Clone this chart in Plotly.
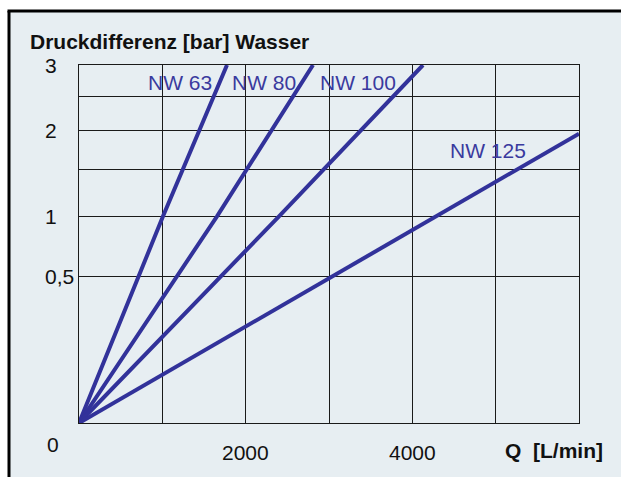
import numpy as np
import plotly.graph_objects as go

# ---- data (Q in L/min, pressure difference in bar) ----
series_names = ["NW 63", "NW 80", "NW 100", "NW 125"]
q_nw63 = [0, 1008, 1776]
dp_nw63 = [0, 1.0, 3.0]
q_nw80 = [0, 1656, 2808]
dp_nw80 = [0, 1.0, 3.0]
q_nw100 = [0, 2400, 4128]
dp_nw100 = [0, 1.0, 3.0]
q_nw125 = [0, 4296, 6000]
dp_nw125 = [0, 1.0, 1.96]

x_grid = [0, 1000, 2000, 3000, 4000, 5000, 6000]
x_tick_labels = {2000: "2000", 4000: "4000"}
y_grid = [0, 0.5, 1, 1.5, 2, 2.5, 3]
y_tick_labels = {0: "0", 0.5: "0,5", 1: "1", 2: "2", 3: "3"}

# ---- layout geometry (pixels) ----
W, H = 621, 477
L, R, T, B = 79, 42, 65, 54
PW, PH = W - L - R, H - T - B


def px(xpix):
    return (xpix - L) / PW


def py(ypix):
    return (H - B - ypix) / PH


BG = "#e7eef2"
LINE = "#32329a"
TXT_BLUE = "#3a3a9e"
FONT = "Liberation Sans, Arial, sans-serif"
FS = 21

fig = go.Figure()
for name, q, dp in [
    ("NW 63", q_nw63, dp_nw63),
    ("NW 80", q_nw80, dp_nw80),
    ("NW 100", q_nw100, dp_nw100),
    ("NW 125", q_nw125, dp_nw125),
]:
    fig.add_trace(go.Scatter(
        x=q, y=np.sqrt(dp), mode="lines", name=name,
        line=dict(color=LINE, width=4), showlegend=False,
    ))

shapes = [
    # light blue panel with top and left border
    dict(type="rect", xref="paper", yref="paper", layer="below",
         x0=px(9), x1=px(W + 5), y0=py(H + 5), y1=py(11),
         fillcolor=BG, line=dict(width=0)),
    dict(type="line", xref="paper", yref="paper", layer="above",
         x0=px(7.5), x1=px(W + 5), y0=py(11), y1=py(11),
         line=dict(color="black", width=3)),
    dict(type="line", xref="paper", yref="paper", layer="above",
         x0=px(9), x1=px(9), y0=py(H + 5), y1=py(11),
         line=dict(color="black", width=3)),
]
# gaps in the grid behind the curve labels
for (x0, x1, y0, y1) in [(146, 214, 67, 93), (230, 298, 67, 92),
                         (318, 398, 67, 93), (448, 527, 134, 166)]:
    shapes.append(dict(type="rect", xref="paper", yref="paper", layer="between",
                       x0=px(x0), x1=px(x1), y0=py(y1), y1=py(y0),
                       fillcolor=BG, line=dict(width=0)))

annotations = []
# curve labels
for text, cx, cy in [("NW 63", 180, 82), ("NW 80", 264, 82),
                     ("NW 100", 358, 82), ("NW 125", 487.5, 150)]:
    annotations.append(dict(text=text, xref="paper", yref="paper",
                            x=px(cx), y=py(cy), showarrow=False,
                            xanchor="center", yanchor="middle",
                            font=dict(family=FONT, size=FS, color=TXT_BLUE)))
# y tick labels
for v, lab in y_tick_labels.items():
    if v != 0:
        annotations.append(dict(text=lab, xref="paper", yref="y",
                                x=px(43), y=float(np.sqrt(v)), showarrow=False,
                                xanchor="left", yanchor="middle",
                                font=dict(family=FONT, size=FS, color="#111111")))
    else:
        annotations.append(dict(text=lab, xref="paper", yref="paper",
                                x=px(45), y=py(444), showarrow=False,
                                xanchor="left", yanchor="middle",
                                font=dict(family=FONT, size=FS, color="#111111")))
# x tick labels
for v, lab in x_tick_labels.items():
    annotations.append(dict(text=lab, xref="x", yref="paper",
                            x=v, y=py(452), showarrow=False,
                            xanchor="center", yanchor="middle",
                            font=dict(family=FONT, size=FS, color="#111111")))
# axis titles
annotations.append(dict(text="<b>Druckdifferenz [bar] Wasser</b>", xref="paper", yref="paper",
                        x=px(28), y=py(41), showarrow=False,
                        xanchor="left", yanchor="middle",
                        font=dict(family=FONT, size=FS, color="#111111")))
annotations.append(dict(text="<b>Q  [L/min]</b>", xref="paper", yref="paper",
                        x=px(605), y=py(450), showarrow=False,
                        xanchor="right", yanchor="middle",
                        font=dict(family=FONT, size=FS, color="#111111")))

fig.update_layout(
    width=W, height=H,
    margin=dict(l=L, r=R, t=T, b=B, pad=0),
    paper_bgcolor="white",
    plot_bgcolor="rgba(0,0,0,0)",
    shapes=shapes,
    annotations=annotations,
    xaxis=dict(range=[0, 6000], tickmode="array", tickvals=x_grid,
               showticklabels=False, ticks="", showgrid=True,
               gridcolor="#1a1a1a", gridwidth=1.3, zeroline=False,
               showline=True, mirror=True, linecolor="#1a1a1a", linewidth=1.3,
               fixedrange=True),
    yaxis=dict(range=[0, float(np.sqrt(3))], tickmode="array",
               tickvals=[float(np.sqrt(v)) for v in y_grid],
               showticklabels=False, ticks="", showgrid=True,
               gridcolor="#1a1a1a", gridwidth=1.3, zeroline=False,
               showline=True, mirror=True, linecolor="#1a1a1a", linewidth=1.3,
               fixedrange=True),
)

fig.write_html("out.html", config={"displayModeBar": False},
               post_script="document.body.style.margin='0';document.body.style.overflow='hidden';")
